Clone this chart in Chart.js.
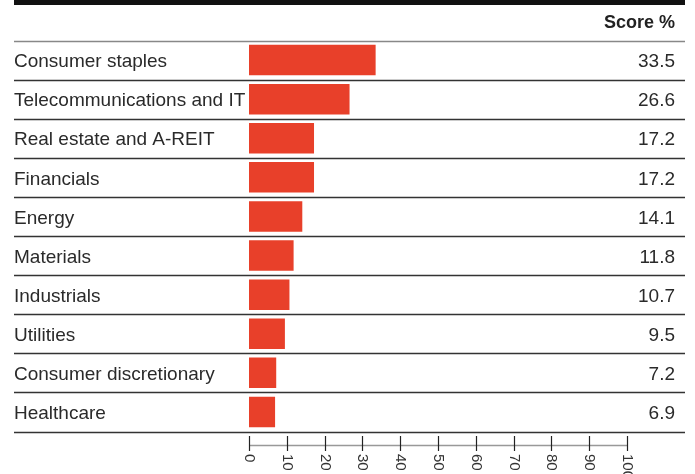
<!DOCTYPE html>
<html>
<head>
<meta charset="utf-8">
<script src="https://cdn.jsdelivr.net/npm/chart.js@4"></script>
<style>
  html, body { margin: 0; padding: 0; background: #fff; }
  canvas { display: block; }
</style>
</head>
<body>
<canvas id="scoreChart" width="695" height="474"></canvas>
<script>
// Sector scores
const categories = [
    "Consumer staples",
    "Telecommunications and IT",
    "Real estate and A-REIT",
    "Financials",
    "Energy",
    "Materials",
    "Industrials",
    "Utilities",
    "Consumer discretionary",
    "Healthcare"
];
const scores = [33.5, 26.6, 17.2, 17.2, 14.1, 11.8, 10.7, 9.5, 7.2, 6.9];
const scoreLabels = ["33.5", "26.6", "17.2", "17.2", "14.1", "11.8", "10.7", "9.5", "7.2", "6.9"];
const tickValues = [0, 10, 20, 30, 40, 50, 60, 70, 80, 90, 100];
const headerText = "Score %";

const FONT = '"Liberation Sans", Arial, sans-serif';

// Draws the table rows, labels, values and the bottom axis
const tablePlugin = {
    id: "table",
    afterDatasetsDraw(chart) {
        const ctx = chart.ctx;
        const area = chart.chartArea;
        const xScale = chart.scales.x;
        const yScale = chart.scales.y;
        const left = 14, right = 685;
        const band = (area.bottom - area.top) / categories.length;

        ctx.save();

        // top black rule
        ctx.fillStyle = "#111";
        ctx.fillRect(left, 0, right - left, 5);

        // header
        ctx.fillStyle = "#222";
        ctx.font = "bold 18px " + FONT;
        ctx.textAlign = "right";
        ctx.textBaseline = "middle";
        ctx.fillText(headerText, 675, 23);

        // row separators
        for (let i = 0; i <= categories.length; i++) {
            const y = Math.round(area.top + i * band) + 0.5;
            ctx.strokeStyle = i === 0 ? "#888" : "#333";
            ctx.lineWidth = 1.5;
            ctx.beginPath();
            ctx.moveTo(left, y);
            ctx.lineTo(right, y);
            ctx.stroke();
        }

        // category names and values
        ctx.font = "19px " + FONT;
        ctx.fillStyle = "#2a2a2a";
        categories.forEach((name, i) => {
            const y = yScale.getPixelForValue(i) + 2;
            ctx.textAlign = "left";
            ctx.fillText(name, left, y);
            ctx.textAlign = "right";
            ctx.fillText(scoreLabels[i], 675, y);
        });

        // bottom axis
        const axisY = 445.5;
        ctx.strokeStyle = "#999";
        ctx.lineWidth = 1.5;
        ctx.beginPath();
        ctx.moveTo(xScale.getPixelForValue(tickValues[0]), axisY);
        ctx.lineTo(xScale.getPixelForValue(tickValues[tickValues.length - 1]), axisY);
        ctx.stroke();

        ctx.strokeStyle = "#222";
        ctx.lineWidth = 1.2;
        ctx.font = "15px " + FONT;
        ctx.fillStyle = "#333";
        tickValues.forEach(v => {
            const x = Math.round(xScale.getPixelForValue(v)) + 0.5;
            ctx.beginPath();
            ctx.moveTo(x, 436);
            ctx.lineTo(x, 451);
            ctx.stroke();

            ctx.save();
            ctx.translate(x, 454);
            ctx.rotate(Math.PI / 2);
            ctx.textAlign = "left";
            ctx.textBaseline = "middle";
            ctx.fillText(String(v), 0, 0);
            ctx.restore();
        });

        ctx.restore();
    }
};

new Chart(document.getElementById("scoreChart"), {
    type: "bar",
    data: {
        labels: categories,
        datasets: [{
            data: scores,
            backgroundColor: "#e8402a",
            borderWidth: 0,
            barPercentage: 0.78,
            categoryPercentage: 1
        }]
    },
    options: {
        indexAxis: "y",
        responsive: false,
        animation: false,
        layout: {
            padding: { left: 249, right: 68, top: 40.5, bottom: 42.5 }
        },
        scales: {
            x: { display: false, min: 0, max: 100 },
            y: { display: false }
        },
        plugins: {
            legend: { display: false },
            tooltip: { enabled: false }
        }
    },
    plugins: [tablePlugin]
});
</script>
</body>
</html>
